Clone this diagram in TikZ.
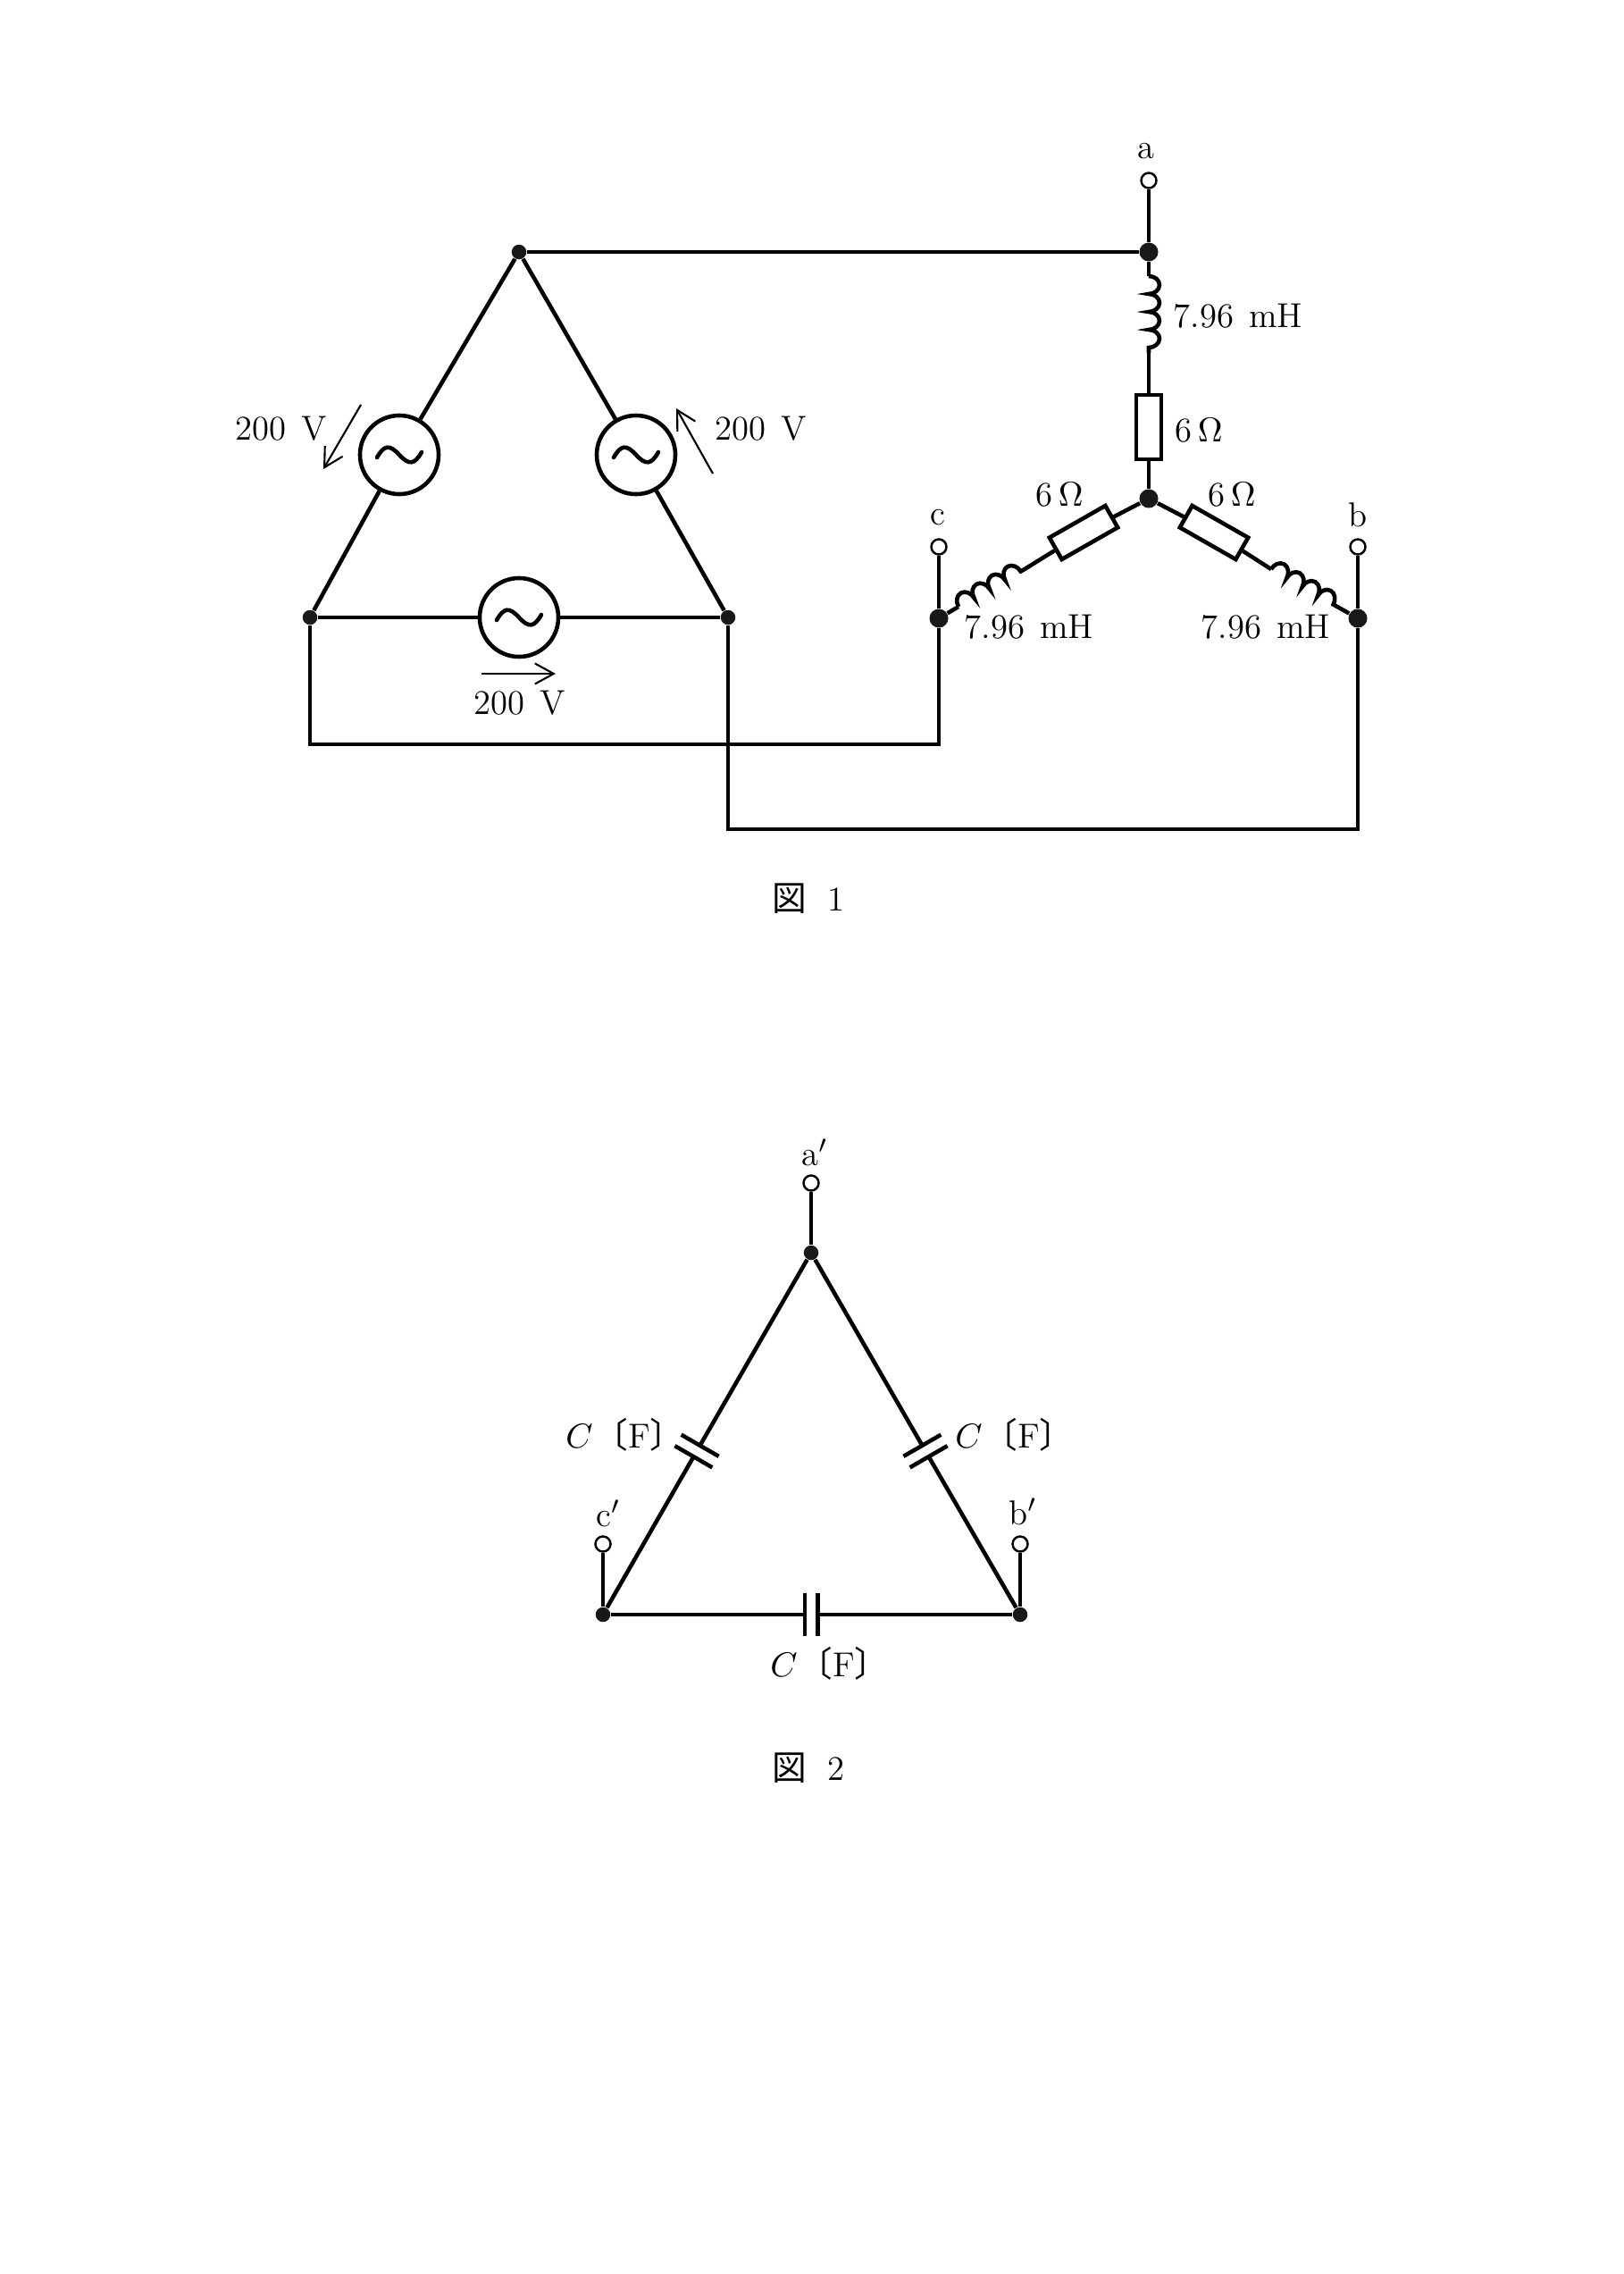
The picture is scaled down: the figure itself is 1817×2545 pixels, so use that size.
\documentclass[tikz,border=0pt]{standalone}
\usepackage{amsmath}
\usepackage{fontspec}
\usetikzlibrary{arrows.meta,decorations.pathmorphing}
\newfontfamily\cjk{Noto Sans CJK JP}
\tikzset{
  >={Straight Barb[length=2.1mm,width=2.3mm]},
  wire/.style={line width=1.3pt},
  dot/.style={circle,fill=black!90,inner sep=0,minimum size=0.21cm},
  jdot/.style={dot,minimum size=0.165cm},
  term/.style={circle,draw,fill=white,line width=0.7pt,inner sep=0,minimum size=0.17cm},
  lbl/.style={font=\fontsize{11}{13}\selectfont,inner sep=0},
  res/.style={rectangle,draw,wire,inner sep=0,minimum width=0.72cm,minimum height=0.28cm},
  capac/.style={rectangle,inner sep=0,minimum width=0.47cm,minimum height=0.13cm},
  coilwire/.style={wire,decorate,decoration={bumps,amplitude=0.12cm,segment length=0.4cm}},
  src/.style={circle,draw,wire,inner sep=0,minimum size=0.88cm,
    path picture={\draw[wire,line cap=round] (path picture bounding box.center) ++(-25,3)
      .. controls +(8,-14) and +(-11,-12) .. ++(25,-3) .. controls +(11,12) and +(-8,14) .. ++(25,-3);}},
  volt/.style={line width=0.6pt,->}
}
\newcommand{\farad}{$C$\hspace{0.02em}{\cjk 〔}F{\cjk 〕}}
\begin{document}
\begin{tikzpicture}[x=0.01cm,y=-0.01cm]
\useasboundingbox (0,0) rectangle (1817,2545);
\node[term] (ta) at (1286,202) {}; \node[dot] (ja) at (1286,282) {};
\node[term] (tc) at (1051,612) {}; \node[dot] (jc) at (1051,692) {};
\node[term] (tb) at (1520,612) {}; \node[dot] (jb) at (1520,692) {};
\node[dot] (star) at (1286,558) {};
\node[jdot] (dt) at (581,282) {};
\node[jdot] (dl) at (347,691) {};
\node[jdot] (dr) at (815,691) {};
\node[src] (sl) at (447,509) {}; \node[src] (sr) at (712,509) {}; \node[src] (sb) at (581,691) {};
\node[res] (ra) at (1286,478) [rotate=90] {};
\node[res] (rc) at (1213,596) [rotate=29.7] {};
\node[res] (rb) at (1359,596) [rotate=-29.7] {};
\coordinate (la1) at (1286,309); \coordinate (la2) at (1286,395);
\coordinate (lc1) at (1073,679); \coordinate (lc2) at (1147,637);
\coordinate (lb1) at (1423,637); \coordinate (lb2) at (1497,679);
\coordinate (pc1) at (347,833); \coordinate (pc2) at (1051,833);
\coordinate (pb1) at (815,928); \coordinate (pb2) at (1520,928);
\draw[wire] (ta) -- (ja); \draw[wire] (tc) -- (jc); \draw[wire] (tb) -- (jb);
\draw[wire] (dt) -- (ja);
\draw[wire] (ja) -- (la1); \draw[coilwire] (la1) -- (la2); \draw[wire] (la2) -- (ra); \draw[wire] (ra) -- (star);
\draw[wire] (jc) -- (lc1); \draw[coilwire] (lc1) -- (lc2); \draw[wire] (lc2) -- (rc); \draw[wire] (rc) -- (star);
\draw[wire] (star) -- (rb); \draw[wire] (rb) -- (lb1); \draw[coilwire] (lb1) -- (lb2); \draw[wire] (lb2) -- (jb);
\draw[wire] (dt) -- (sl); \draw[wire] (sl) -- (dl);
\draw[wire] (dt) -- (sr); \draw[wire] (sr) -- (dr);
\draw[wire] (dl) -- (sb); \draw[wire] (sb) -- (dr);
\draw[wire] (dl) -- (pc1) -- (pc2) -- (jc);
\draw[wire] (dr) -- (pb1) -- (pb2) -- (jb);
\coordinate (al1) at (404,453); \coordinate (al2) at (362,525);
\coordinate (ar1) at (798,530); \coordinate (ar2) at (757,457);
\coordinate (ab1) at (539,754); \coordinate (ab2) at (622,754);
\draw[volt] (al1) -- (al2); \draw[volt] (ar1) -- (ar2); \draw[volt] (ab1) -- (ab2);
\node[lbl] (na) at (1283,169) {a}; \node[lbl] (nc) at (1050,579) {c}; \node[lbl] (nb) at (1520,576) {b};
\node[lbl] (la) at (1386,354) {7.96\hspace{0.45em}mH};
\node[lbl] (lc) at (1152,702) {7.96\hspace{0.45em}mH};
\node[lbl] (lb) at (1417,702) {7.96\hspace{0.45em}mH};
\node[lbl] (oa) at (1342,482) {6\,$\Omega$};
\node[lbl] (oc) at (1186,554) {6\,$\Omega$};
\node[lbl] (ob) at (1379,554) {6\,$\Omega$};
\node[lbl] (vl) at (315,480) {200\hspace{0.45em}V};
\node[lbl] (vr) at (852,480) {200\hspace{0.45em}V};
\node[lbl] (vb) at (582,787) {200\hspace{0.45em}V};
\node[lbl] (fig1) at (905,1006) {{\cjk 図}\hspace{0.6em}1};
\node[term] (tap) at (908,1324) {}; \node[jdot] (jap) at (908,1402) {};
\node[term] (tcp) at (675,1728) {}; \node[jdot] (jcp) at (675,1807) {};
\node[term] (tbp) at (1142,1728) {}; \node[jdot] (jbp) at (1142,1807) {};
\node[capac] (cl) at (780,1624) [rotate=-30] {};
\node[capac] (cr) at (1036,1624) [rotate=30] {};
\node[capac] (cb) at (908,1807) [rotate=90] {};
\foreach \n in {cl,cr,cb} {
  \draw[wire] (\n.north west) -- (\n.north east);
  \draw[wire] (\n.south west) -- (\n.south east);
}
\draw[wire] (tap) -- (jap); \draw[wire] (tcp) -- (jcp); \draw[wire] (tbp) -- (jbp);
\draw[wire] (jap) -- (cl); \draw[wire] (cl) -- (jcp);
\draw[wire] (jap) -- (cr); \draw[wire] (cr) -- (jbp);
\draw[wire] (jcp) -- (cb); \draw[wire] (cb) -- (jbp);
\node[lbl] (nap) at (912,1290) {a$'$}; \node[lbl] (ncp) at (681,1694) {c$'$}; \node[lbl] (nbp) at (1145,1692) {b$'$};
\node[lbl] (fl) at (700,1606) {\farad};
\node[lbl] (fr) at (1136,1606) {\farad};
\node[lbl] (fb) at (929,1862) {\farad};
\node[lbl] (fig2) at (905,1979) {{\cjk 図}\hspace{0.6em}2};
\end{tikzpicture}
\end{document}
